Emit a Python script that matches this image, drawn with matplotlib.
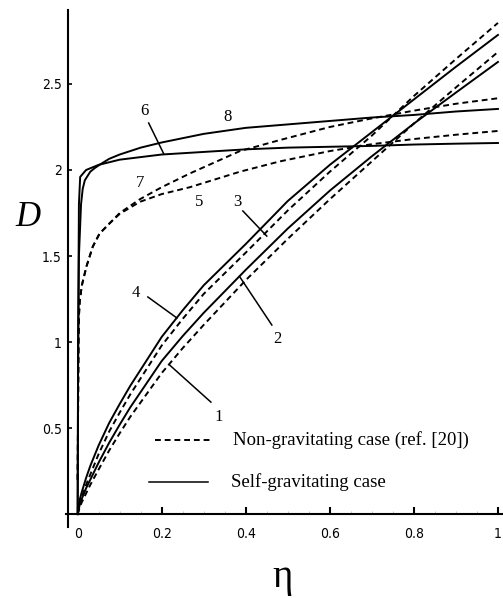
import matplotlib
matplotlib.use("Agg")
import matplotlib.pyplot as plt
import numpy as np

# ---- data ----
# rising curves (1-4)
eta_14 = [0, 0.005, 0.01, 0.02, 0.03, 0.05, 0.075, 0.1, 0.125, 0.15, 0.2, 0.25, 0.3,
          0.4, 0.5, 0.6, 0.7, 0.8, 0.9, 1.0]
D_4 = [0, 0.085, 0.13, 0.21, 0.28, 0.40, 0.53, 0.64, 0.745, 0.84, 1.03, 1.185, 1.33,
       1.57, 1.82, 2.03, 2.22, 2.41, 2.60, 2.785]
D_3 = [0, 0.06, 0.10, 0.17, 0.23, 0.35, 0.48, 0.59, 0.695, 0.79, 0.98, 1.135, 1.28,
       1.52, 1.765, 1.99, 2.20, 2.43, 2.645, 2.855]
D_2 = [0, 0.055, 0.09, 0.15, 0.20, 0.30, 0.415, 0.52, 0.62, 0.71, 0.89, 1.035, 1.17,
       1.42, 1.66, 1.88, 2.08, 2.27, 2.45, 2.628]
D_1 = [0, 0.04, 0.07, 0.12, 0.17, 0.26, 0.37, 0.47, 0.565, 0.65, 0.82, 0.965, 1.10,
       1.36, 1.60, 1.83, 2.05, 2.27, 2.48, 2.686]

# flat curves (5-8)
eta_6 = [0, 0.001, 0.003, 0.006, 0.02, 0.05, 0.1, 0.2, 0.3, 0.4, 0.5, 0.6, 0.7, 0.8, 0.9, 1.0]
D_6 = [0, 1.0, 1.8, 1.96, 2.0, 2.03, 2.06, 2.09, 2.105, 2.12, 2.13, 2.135, 2.14, 2.148, 2.153, 2.157]
eta_8 = [0, 0.001, 0.003, 0.008, 0.012, 0.017, 0.03, 0.04, 0.052, 0.075, 0.1, 0.15, 0.2,
         0.3, 0.4, 0.5, 0.6, 0.7, 0.8, 0.9, 1.0]
D_8 = [0, 0.8, 1.5, 1.8, 1.89, 1.94, 1.99, 2.01, 2.03, 2.065, 2.09, 2.13, 2.16,
       2.21, 2.245, 2.265, 2.285, 2.305, 2.32, 2.34, 2.355]
eta_57 = [0, 0.001, 0.002, 0.003, 0.005, 0.01, 0.021, 0.036, 0.052, 0.076, 0.1, 0.148, 0.2, 0.267,
          0.386, 0.481, 0.6, 0.7, 0.8, 0.9, 1.0]
D_7 = [0.2, 0.6, 1.0, 1.15, 1.24, 1.33, 1.44, 1.555, 1.63, 1.69, 1.75, 1.83, 1.90, 1.98,
       2.11, 2.174, 2.25, 2.30, 2.345, 2.385, 2.417]
D_5 = [0.2, 0.6, 1.0, 1.15, 1.24, 1.33, 1.44, 1.555, 1.63, 1.69, 1.745, 1.815, 1.86, 1.90,
       1.99, 2.05, 2.11, 2.15, 2.18, 2.205, 2.227]

# curve number labels: (text, position, leader start, leader end)
labels = [
    ("1", (0.336, 0.564), (0.317, 0.651), (0.219, 0.866)),
    ("2", (0.474, 1.017), (0.462, 1.099), (0.386, 1.378)),
    ("3", (0.379, 1.814), (0.393, 1.762), (0.450, 1.616)),
    ("4", (0.138, 1.285), (0.167, 1.262), (0.236, 1.140)),
    ("5", (0.290, 1.814), None, None),
    ("6", (0.160, 2.343), (0.169, 2.273), (0.205, 2.093)),
    ("7", (0.148, 1.924), None, None),
    ("8", (0.357, 2.308), None, None),
]

xticks = [0, 0.2, 0.4, 0.6, 0.8, 1]
xticklabels = ["0", "0.2", "0.4", "0.6", "0.8", "1"]
yticks = [0.5, 1, 1.5, 2, 2.5]
yticklabels = ["0.5", "1", "1.5", "2", "2.5"]

SERIF = ["Liberation Serif", "DejaVu Serif"]
NARROW = ["Liberation Sans Narrow", "DejaVu Sans"]

fig = plt.figure(figsize=(5.03, 5.98), dpi=100)
ax = fig.add_axes([0.131, 0.1187, 0.869, 0.8646])

solid = dict(color="black", lw=1.4, ls="-")
dashed = dict(color="black", lw=1.4, ls=(0, (3, 2.0)))

ax.plot(eta_14, D_4, **solid)
ax.plot(eta_14, D_2, **solid)
ax.plot(eta_14, D_3, **dashed)
ax.plot(eta_14, D_1, **dashed)
ax.plot(eta_6, D_6, **solid)
ax.plot(eta_8, D_8, **solid)
ax.plot(eta_57, D_7, **dashed)
ax.plot(eta_57, D_5, **dashed)

for txt, pos, p0, p1 in labels:
    ax.text(pos[0], pos[1], txt, ha="center", va="center", fontsize=12, family=SERIF)
    if p0 is not None:
        ax.plot([p0[0], p1[0]], [p0[1], p1[1]], color="black", lw=1.1)

# legend drawn by hand
ax.plot([0.185, 0.315], [0.43, 0.43], **dashed)
ax.text(0.37, 0.43, "Non-gravitating case (ref. [20])", va="center", fontsize=13.5, family=SERIF)
ax.plot([0.17, 0.31], [0.185, 0.185], color="black", lw=1.1)
ax.text(0.365, 0.185, "Self-gravitating case", va="center", fontsize=13.5, family=SERIF)

ax.set_xlim(-0.028, 1.012)
ax.set_ylim(-0.075, 2.93)
ax.spines["top"].set_visible(False)
ax.spines["right"].set_visible(False)
ax.spines["bottom"].set_position(("data", 0))
ax.spines["left"].set_position(("data", -0.024))
ax.spines["bottom"].set_linewidth(1.5)
ax.spines["left"].set_linewidth(1.5)

ax.set_xticks(xticks)
ax.set_xticklabels(xticklabels, family=NARROW, fontsize=10, fontstretch="condensed")
ax.set_xticks(np.arange(0, 1.01, 0.05), minor=True)
ax.set_yticks(yticks)
ax.set_yticklabels(yticklabels, family=NARROW, fontsize=10, fontstretch="condensed")
ax.tick_params(axis="x", which="major", direction="in", length=5, width=1.5, pad=9)
ax.tick_params(axis="x", which="minor", direction="in", length=2.5, width=0.6, color="#bbbbbb")
ax.tick_params(axis="y", which="major", direction="in", length=3, width=1.2, pad=4)

fig.text(28 / 503, 1 - 218 / 598, "D", fontsize=25, style="italic", family=SERIF,
         ha="center", va="center")
fig.text(283 / 503, 1 - 578 / 598, "η", fontsize=28, family=SERIF, ha="center", va="center")

fig.savefig("out.png", dpi=100)
